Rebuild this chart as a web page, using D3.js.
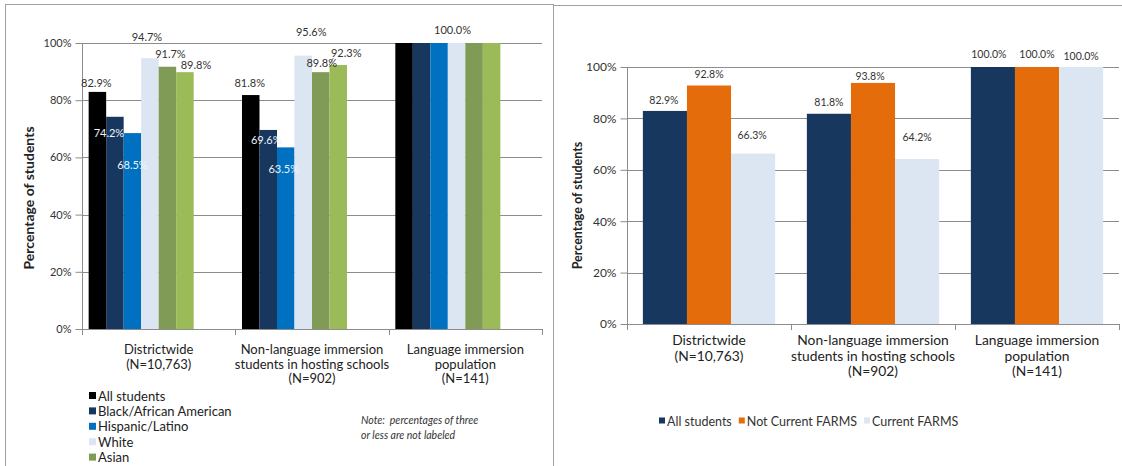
<!DOCTYPE html>
<html>
<head>
<meta charset="utf-8">
<script src="https://cdn.jsdelivr.net/npm/d3@7"></script>
<style>
  html, body { margin: 0; padding: 0; background: #fff; }
  svg { display: block; font-family: Lato, "Open Sans", sans-serif; }
</style>
</head>
<body>
<svg id="chart" width="1122" height="466"></svg>
<script>
// ---------- data ----------
const categories = [
  ["Districtwide", "(N=10,763)"],
  ["Non-language immersion", "students in hosting schools", "(N=902)"],
  ["Language immersion", "population", "(N=141)"]
];
const yTicks = [0, 20, 40, 60, 80, 100];

// Race / ethnicity panel
const raceSeries = ["All students", "Black/African American", "Hispanic/Latino", "White", "Asian", "Two or more races"];
const allStudents   = [82.9, 81.8, 100.0];
const blackAfrAm    = [74.2, 69.6, 100.0];
const hispanic      = [68.5, 63.5, 100.0];
const white         = [94.7, 95.6, 100.0];
const asian         = [91.7, 89.8, 100.0];
const twoOrMore     = [89.8, 92.3, 100.0];
const raceValues = [allStudents, blackAfrAm, hispanic, white, asian, twoOrMore];

// FARMS panel
const farmsSeries = ["All students", "Not Current FARMS", "Current FARMS"];
const farmsAll     = [82.9, 81.8, 100.0];
const farmsNot     = [92.8, 93.8, 100.0];
const farmsCurrent = [66.3, 64.2, 100.0];
const farmsValues = [farmsAll, farmsNot, farmsCurrent];

// ---------- styling ----------
const W = 1122, H = 466;
const raceColors  = ["#000000", "#17375e", "#0070c0", "#dce6f2", "#7f9b55", "#9bbb59"];
const farmsColors = ["#17375e", "#e46c0a", "#dce6f2"];
const gridColor = "#8c8c8c";
const fmt = d => d.toFixed(1) + "%";

// Label placement per "category|series": offsets from the default spot above the bar.
const raceLabels = {
  "0|0": {dx: -1, dy: -5},
  "0|1": {dx: -6, dy: 20, inside: true},
  "0|2": {dx: 0,  dy: 36, inside: true},
  "0|3": {dx: -3, dy: -17},
  "0|4": {dx: 3,  dy: -9},
  "0|5": {dx: 11, dy: -3},
  "1|0": {dx: -1, dy: -8},
  "1|1": {dx: -2, dy: 14, inside: true},
  "1|2": {dx: -2, dy: 26, inside: true},
  "1|3": {dx: 8,  dy: -20},
  "1|4": {dx: 1,  dy: -5},
  "1|5": {dx: 8,  dy: -8, leader: true},
  "2|3": {dx: -4, dy: -9}
};
const farmsLabels = {
  "0|0": {dx: -1, dy: -7},
  "0|1": {dx: 0,  dy: -8},
  "0|2": {dx: -1, dy: -15},
  "1|0": {dx: 0,  dy: -8},
  "1|1": {dx: -3, dy: -3},
  "1|2": {dx: 0,  dy: -18},
  "2|0": {dx: -4, dy: -9},
  "2|1": {dx: 0,  dy: -9},
  "2|2": {dx: 0,  dy: -7}
};

const svg = d3.select("#chart");

// panel frames
svg.append("rect").attr("x", 5.5).attr("y", 4.5).attr("width", 548).attr("height", 470)
  .attr("fill", "none").attr("stroke", "#a0a0a0");
svg.append("line").attr("x1", 553.5).attr("x2", W).attr("y1", 5.5).attr("y2", 5.5)
  .attr("stroke", "#a0a0a0");

function drawPanel(cfg) {
  const g = svg.append("g");
  const x0 = d3.scaleBand().domain(d3.range(categories.length)).range([cfg.left, cfg.right]).padding(0);
  const x1 = d3.scaleBand().domain(d3.range(cfg.slots)).range([0, x0.bandwidth()])
    .paddingInner(0).paddingOuter(cfg.outer);
  const y = d3.scaleLinear().domain([0, 100]).range([cfg.bottom, cfg.top]);

  // gridlines
  g.append("g").selectAll("line").data(yTicks.filter(t => t > 0)).join("line")
    .attr("x1", cfg.left).attr("x2", cfg.right)
    .attr("y1", d => Math.round(y(d)) + 0.5).attr("y2", d => Math.round(y(d)) + 0.5)
    .attr("stroke", gridColor).attr("stroke-width", 1);

  // y axis
  const yAxis = g.append("g").attr("transform", `translate(${cfg.left + 0.5},0)`)
    .call(d3.axisLeft(y).tickValues(yTicks).tickFormat(d => d + "%").tickSize(7).tickPadding(4));
  yAxis.select(".domain").attr("stroke", gridColor).attr("d", `M0,${cfg.top}V${cfg.bottom}`);
  yAxis.selectAll(".tick line").attr("stroke", gridColor);
  yAxis.selectAll(".tick text").attr("fill", "#333").attr("font-size", cfg.tickSize)
    .attr("font-family", "Lato, sans-serif");

  // bars
  cfg.values.forEach((vals, s) => {
    g.append("g").selectAll("rect").data(vals).join("rect")
      .attr("x", (d, i) => x0(i) + x1(s))
      .attr("width", x1.bandwidth())
      .attr("y", d => y(d))
      .attr("height", d => y(0) - y(d))
      .attr("fill", cfg.colors[s]);
  });

  // x axis line with category dividers
  const xb = g.append("g");
  xb.append("line").attr("x1", cfg.left).attr("x2", cfg.right)
    .attr("y1", cfg.bottom + 0.5).attr("y2", cfg.bottom + 0.5).attr("stroke", gridColor);
  const edges = d3.range(categories.length + 1).map(i => i < categories.length ? x0(i) : x0.range()[1]);
  xb.selectAll("line.div").data(edges).join("line").attr("class", "div")
    .attr("x1", d => Math.round(d) + 0.5).attr("x2", d => Math.round(d) + 0.5)
    .attr("y1", cfg.bottom).attr("y2", cfg.bottom + 6).attr("stroke", gridColor);

  // category labels
  categories.forEach((lines, i) => {
    const t = g.append("text").attr("x", x0(i) + x0.bandwidth() / 2).attr("y", cfg.catY)
      .attr("text-anchor", "middle").attr("font-size", cfg.catSize).attr("fill", "#222");
    lines.forEach((ln, k) => t.append("tspan").attr("x", x0(i) + x0.bandwidth() / 2)
      .attr("dy", k === 0 ? 0 : cfg.catLead).text(ln));
  });

  // y title
  g.append("text")
    .attr("transform", `translate(${cfg.titleX},${(cfg.top + cfg.bottom) / 2 + cfg.titleShift}) rotate(-90)`)
    .attr("text-anchor", "middle").attr("font-weight", "bold").attr("font-size", cfg.titleSize)
    .attr("fill", "#222").text("Percentage of students");

  // value labels
  Object.entries(cfg.labels).forEach(([key, p]) => {
    const [c, s] = key.split("|").map(Number);
    const v = cfg.values[s][c];
    const cx = x0(c) + x1(s) + x1.bandwidth() / 2;
    const ty = y(v) + p.dy;
    g.append("text").attr("x", cx + p.dx).attr("y", ty)
      .attr("text-anchor", "middle").attr("font-size", cfg.labelSize)
      .attr("fill", p.inside ? "#eef3fa" : "#333").text(fmt(v));
    if (p.leader) {
      g.append("line").attr("x1", cx - 5).attr("y1", ty + 1).attr("x2", cx - 9).attr("y2", y(v))
        .attr("stroke", "#555").attr("stroke-width", 0.8);
    }
  });
  return g;
}

drawPanel({
  left: 82, right: 542, top: 43, bottom: 329, slots: 8, outer: 0.38,
  values: raceValues, colors: raceColors, labels: raceLabels,
  tickSize: 11, catSize: 13, catY: 354, catLead: 14.5,
  titleX: 34, titleShift: 12, titleSize: 14, labelSize: 11
});

drawPanel({
  left: 627, right: 1119, top: 67, bottom: 324, slots: 3, outer: 0.36,
  values: farmsValues, colors: farmsColors, labels: farmsLabels,
  tickSize: 12, catSize: 13.8, catY: 345, catLead: 15.5,
  titleX: 582, titleShift: 10, titleSize: 12.5, labelSize: 10.5
});

// left legend: stacked list, clipped by the panel's lower edge
const legRows = raceSeries.map((name, i) => ({name, i, y: 396 + i * 15.4})).filter(d => d.y + 4 < H);
const legL = svg.append("g").selectAll("g").data(legRows).join("g")
  .attr("transform", d => `translate(89,${d.y})`);
legL.append("rect").attr("x", 0).attr("y", -4).attr("width", 7).attr("height", 7)
  .attr("fill", d => raceColors[d.i]);
legL.append("text").attr("x", 9).attr("y", 4.5).attr("font-size", 13).attr("fill", "#222").text(d => d.name);

// note
const note = svg.append("text").attr("x", 361).attr("y", 424).attr("font-size", 10.5)
  .attr("font-style", "italic").attr("fill", "#333");
note.append("tspan").attr("x", 361).attr("xml:space", "preserve").text("Note:  percentages of three");
note.append("tspan").attr("x", 361).attr("dy", 15).text("or less are not labeled");

// right legend: single row
const legR = svg.append("g").attr("transform", "translate(659,421)");
let lx = 0;
farmsSeries.forEach((name, i) => {
  legR.append("rect").attr("x", lx).attr("y", -3.5).attr("width", 6).attr("height", 6).attr("fill", farmsColors[i]);
  const t = legR.append("text").attr("x", lx + 8).attr("y", 4.5).attr("font-size", 12.5).attr("fill", "#333").text(name);
  lx += 8 + t.node().getComputedTextLength() + 7;
});
</script>
</body>
</html>
